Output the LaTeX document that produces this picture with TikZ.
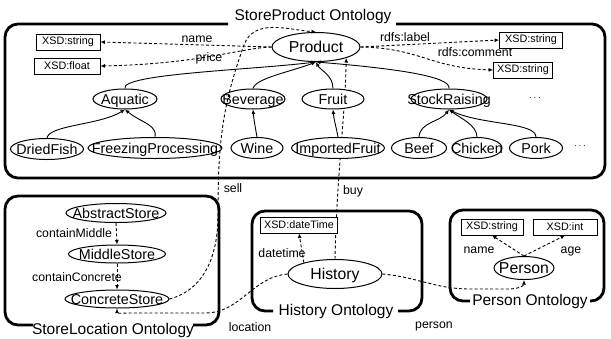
\documentclass[tikz,border=0pt]{standalone}
\usepackage{fontspec}
\setmainfont{Liberation Sans}
\usetikzlibrary{shapes.geometric, arrows.meta, backgrounds}

\begin{document}
\begin{tikzpicture}[
  x=1pt, y=1pt,
  ontobox/.style={line width=2.8pt, rounded corners=13pt},
  ontoname/.style={font=\fontsize{15.5}{18}\selectfont, inner sep=0pt},
  cls/.style={ellipse, draw, fill=white, line width=1pt, inner sep=0pt,
    minimum height=20pt, text height=10pt, text depth=0pt,
    font=\fontsize{14.3}{17}\selectfont,
    execute at begin node={\hbox to 0pt\bgroup\hss},
    execute at end node={\hss\egroup}},
  bigcls/.style={cls, minimum height=29pt, text height=11pt,
    font=\fontsize{15.8}{18}\selectfont},
  xsd/.style={draw, fill=white, line width=0.8pt, inner sep=0pt,
    minimum width=62pt, minimum height=16pt, font=\fontsize{10.8}{12}\selectfont},
  lbl/.style={font=\fontsize{12.3}{14}\selectfont, inner sep=1pt},
  isa/.style={-{Latex[length=4.5pt,width=4pt]}, line width=0.9pt},
  rel/.style={-{Latex[length=4.5pt,width=4pt]}, line width=0.9pt,
    dash pattern=on 3pt off 2.2pt}
]
  \useasboundingbox (0,0) rectangle (611,-338);

  % Ontology frames
  \draw[ontobox] (228,-24) -| (5,-178) -| (605,-24) -- (396,-24);
  \draw[ontobox] (33,-325) -| (5,-196) -| (219,-325) -- (193,-325);
  \draw[ontobox] (273,-311) -| (252,-211) -| (422,-311) -- (398,-311);
  \draw[ontobox] (470,-301) -| (450,-210) -| (604,-301) -- (590,-301);
  \node[ontoname] (tprod) at (313,-16) {StoreProduct Ontology};
  \node[ontoname] (tloc) at (113,-330) {StoreLocation Ontology};
  \node[ontoname] (thist) at (336,-311) {History Ontology};
  \node[ontoname] (tpers) at (530,-301) {Person Ontology};

  % StoreProduct ontology
  \node[bigcls, minimum width=88pt] (product) at (316,-47) {Product};
  \node[xsd, minimum width=64pt] (strname) at (68,-42) {XSD:string};
  \node[xsd, minimum width=66pt] (strfloat) at (67,-66) {XSD:float};
  \node[xsd, minimum width=63pt] (strlabel) at (531,-40) {XSD:string};
  \node[xsd, minimum width=59pt] (strcomment) at (523,-70) {XSD:string};
  \node[lbl] (lname) at (197,-39) {name};
  \node[lbl] (lprice) at (209,-58) {price};
  \node[lbl] (llabel) at (405,-37) {rdfs:label};
  \node[lbl] (lcomment) at (475,-52) {rdfs:comment};

  \node[cls, minimum width=64pt] (aquatic) at (125,-99) {Aquatic};
  \node[cls, minimum width=64pt] (beverage) at (253,-99) {Beverage};
  \node[cls, minimum width=62pt] (fruit) at (333,-99) {Fruit};
  \node[cls, minimum width=76pt] (stock) at (449,-99) {StockRaising};
  \node (more1) at (535,-98) {$\cdots$};

  \node[cls, minimum width=73pt, minimum height=21pt] (driedfish) at (47,-149) {DriedFish};
  \node[cls, minimum width=134pt, minimum height=21pt] (freezing) at (155,-148) {FreezingProcessing};
  \node[cls, minimum width=52pt, minimum height=21pt] (wine) at (257,-148) {Wine};
  \node[cls, minimum width=93pt, minimum height=21pt] (imported) at (338,-148) {ImportedFruit};
  \node[cls, minimum width=55pt, minimum height=21pt] (beef) at (419,-148) {Beef};
  \node[cls, minimum width=50pt, minimum height=21pt] (chicken) at (477,-148) {Chicken};
  \node[cls, minimum width=53pt, minimum height=21pt] (pork) at (536,-148) {Pork};
  \node (more2) at (580,-146) {$\cdots$};

  \draw[isa] (aquatic.north) .. controls (120,-74) and (250,-70) .. (product.south);
  \draw[isa] (beverage.north) .. controls (256,-78) and (290,-72) .. (product.south);
  \draw[isa] (fruit.north) .. controls (333,-75) and (320,-70) .. (product.south);
  \draw[isa] (stock.north) .. controls (452,-76) and (390,-68) .. (product.south);
  \draw[isa] (driedfish.north) .. controls (49,-125) and (100,-125) .. (aquatic.south);
  \draw[isa] (freezing.north) .. controls (158,-125) and (140,-122) .. (aquatic.south);
  \draw[isa] (wine.north) to[out=100,in=-85] (beverage.south);
  \draw[isa] (imported.north) to[out=100,in=-85] (fruit.south);
  \draw[isa] (beef.north) .. controls (420,-122) and (440,-122) .. (stock.south);
  \draw[isa] (chicken.north) .. controls (477,-125) and (460,-118) .. (stock.south);
  \draw[isa] (pork.north) .. controls (536,-122) and (480,-125) .. (stock.south);

  \draw[rel] (product.west) -- (strname.east);
  \draw[rel] (product.west) .. controls (240,-48) and (200,-64) .. (strfloat.east);
  \draw[rel] (product.east) -- (strlabel.west);
  \draw[rel] (product.east) .. controls (420,-48) and (430,-68) .. (strcomment.west);

  % StoreLocation ontology
  \node[cls, minimum width=100pt, minimum height=19pt] (abstract) at (116,-213) {AbstractStore};
  \node[cls, minimum width=97pt, minimum height=18pt] (middle) at (117,-254) {MiddleStore};
  \node[cls, minimum width=104pt, minimum height=18pt] (concrete) at (117,-299) {ConcreteStore};
  \node[lbl] (lmiddle) at (74,-233) {containMiddle};
  \node[lbl] (lconcrete) at (77,-277) {containConcrete};
  \draw[rel] (abstract.south) -- (middle.north);
  \draw[rel] (middle.south) -- (concrete.north);

  % History ontology
  \node[xsd, minimum width=77pt] (datetime) at (299,-225) {XSD:dateTime};
  \node[bigcls, minimum width=94pt] (history) at (335,-274) {History};
  \node[lbl] (ldatetime) at (282,-253) {datetime};
  \draw[rel] (history.160) -- (datetime.south);

  % Person ontology
  \node[xsd, minimum width=62pt] (pstring) at (492,-227) {XSD:string};
  \node[xsd, minimum width=64pt] (pint) at (565,-227) {XSD:int};
  \node[bigcls, minimum width=60pt, minimum height=23pt] (person) at (524,-268) {Person};
  \node[lbl] (lpname) at (479,-250) {name};
  \node[lbl] (lage) at (571,-251) {age};
  \draw[rel] (person.north) -- (pstring.south);
  \draw[rel] (person.north) -- (pint.south);

  % Links between ontologies
  \begin{pgfonlayer}{background}
    \draw[rel] (history.north) .. controls (337,-170) and (345,-120) .. (product.-20);
  \end{pgfonlayer}
  \draw[rel] (concrete.east) to[out=15,in=-90] (218,-215) to[out=90,in=-110] (244,-45)
    to[out=70,in=175] (product.north);
  \draw[rel] (history.west) to[out=185,in=0] (205,-313) -- (130,-313)
    to[out=180,in=-90] (concrete.south);
  \draw[rel] (history.east) to[out=-5,in=180] (470,-289) -- (510,-289)
    to[out=0,in=-90] (person.south);
  \node[lbl] (lsell) at (233,-188) {sell};
  \node[lbl] (lbuy) at (353,-191) {buy};
  \node[lbl] (llocation) at (250,-327) {location};
  \node[lbl] (lperson) at (434,-326) {person};
\end{tikzpicture}
\end{document}
